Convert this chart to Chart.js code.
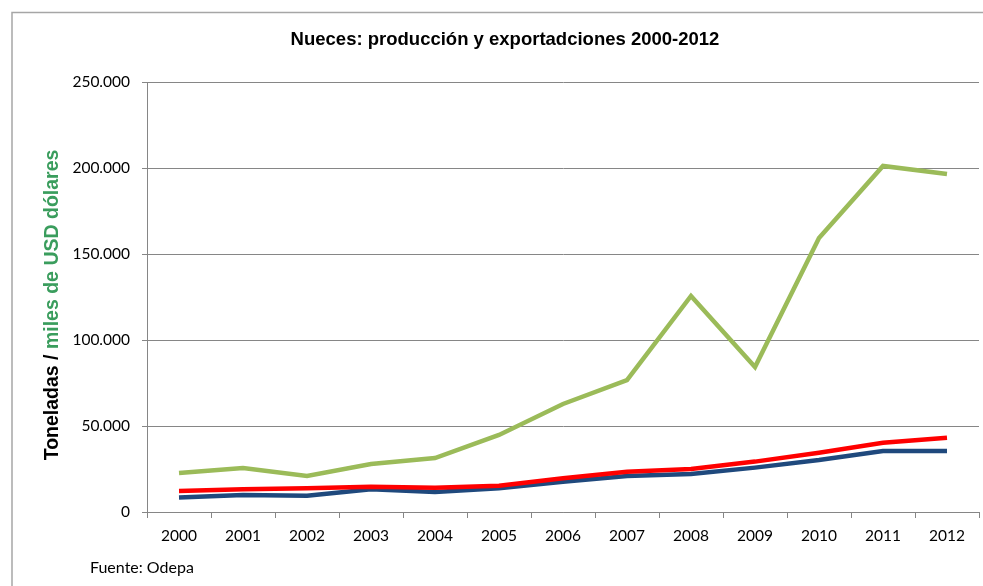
<!DOCTYPE html>
<html>
<head>
<meta charset="utf-8">
<script src="https://cdn.jsdelivr.net/npm/chart.js@4.4.0/dist/chart.umd.min.js"></script>
<style>
  html, body { margin: 0; padding: 0; background: #fff; }
  #wrap { position: relative; width: 983px; height: 586px; }
</style>
</head>
<body>
<div id="wrap"><canvas id="chart" width="983" height="586"></canvas></div>
<script>
const years = ["2000", "2001", "2002", "2003", "2004", "2005", "2006", "2007", "2008", "2009", "2010", "2011", "2012"];
// miles de USD (exportaciones)
const exportValue = [22700, 25600, 20900, 27900, 31400, 44800, 62800, 76700, 125600, 84300, 159300, 201200, 196500];
// toneladas
const production = [12200, 13200, 13800, 14700, 14100, 15300, 19600, 23400, 25000, 29300, 34500, 40300, 43200];
const exportTons = [8500, 9900, 9500, 13200, 11600, 13800, 17600, 20900, 22100, 25800, 30200, 35500, 35500];
const yTicks = [0, 50000, 100000, 150000, 200000, 250000];

const titleText = "Nueces: producción y exportadciones 2000-2012";
const sourceText = "Fuente: Odepa";

function fmt(v) {
  return String(v).replace(/\B(?=(\d{3})+(?!\d))/g, ".");
}

// frame, title, two-colour axis title and source note
const decorations = {
  id: "decorations",
  beforeDraw(chart) {
    const ctx = chart.ctx;
    ctx.save();
    ctx.strokeStyle = "#a6a6a6";
    ctx.lineWidth = 1.5;
    ctx.beginPath();
    ctx.moveTo(12, 600);
    ctx.lineTo(12, 12.5);
    ctx.lineTo(990, 12.5);
    ctx.stroke();
    ctx.restore();
  },
  afterDraw(chart) {
    const ctx = chart.ctx;
    ctx.save();
    ctx.fillStyle = "#000";
    ctx.font = "bold 18.5px 'Liberation Sans', Arial, sans-serif";
    ctx.textAlign = "center";
    ctx.textBaseline = "middle";
    ctx.fillText(titleText, 505, 40);

    // y axis title
    ctx.translate(53, 305);
    ctx.rotate(-Math.PI / 2);
    ctx.font = "bold 19.5px 'Liberation Sans', Arial, sans-serif";
    const a = "Toneladas / ";
    const b = "miles de USD dólares";
    const wa = ctx.measureText(a).width;
    const wb = ctx.measureText(b).width;
    const start = -(wa + wb) / 2;
    ctx.textAlign = "left";
    ctx.fillStyle = "#000";
    ctx.fillText(a, start, 0);
    ctx.fillStyle = "#3a9d5d";
    ctx.fillText(b, start + wa, 0);
    ctx.restore();

    ctx.save();
    ctx.fillStyle = "#000";
    ctx.font = "16px Lato, 'Open Sans', sans-serif";
    ctx.textBaseline = "middle";
    ctx.fillText(sourceText, 90, 568);
    ctx.restore();
  }
};

new Chart(document.getElementById("chart"), {
  type: "line",
  data: {
    labels: years,
    datasets: [
      { label: "Exportaciones (miles USD)", data: exportValue, borderColor: "#9bbb59", borderWidth: 4.5 },
      { label: "Producción (t)", data: production, borderColor: "#ff0000", borderWidth: 4.5 },
      { label: "Exportaciones (t)", data: exportTons, borderColor: "#1f497d", borderWidth: 4.5 }
    ]
  },
  options: {
    responsive: false,
    animation: false,
    elements: { point: { radius: 0 }, line: { tension: 0, borderCapStyle: "butt", borderJoinStyle: "miter" } },
    layout: { padding: { left: 0, right: 4, top: 82, bottom: 34 } },
    plugins: { legend: { display: false }, tooltip: { enabled: false } },
    scales: {
      x: {
        offset: true,
        afterFit: s => { s.height = 40; },
        grid: { offset: true, drawOnChartArea: false, drawTicks: true, tickLength: 6, color: "#868686" },
        border: { color: "#868686" },
        ticks: { color: "#000", padding: 9, font: { family: "Lato, 'Open Sans', sans-serif", size: 15.5 }, maxRotation: 0 }
      },
      y: {
        min: 0,
        max: 250000,
        afterFit: s => { s.width = 147; },
        afterBuildTicks: s => { s.ticks = yTicks.map(v => ({ value: v })); },
        grid: { color: "#868686", tickLength: 5 },
        border: { color: "#868686" },
        ticks: { color: "#000", padding: 12, callback: v => fmt(v), font: { family: "Lato, 'Open Sans', sans-serif", size: 15.5 } }
      }
    }
  },
  plugins: [decorations]
});
</script>
</body>
</html>
